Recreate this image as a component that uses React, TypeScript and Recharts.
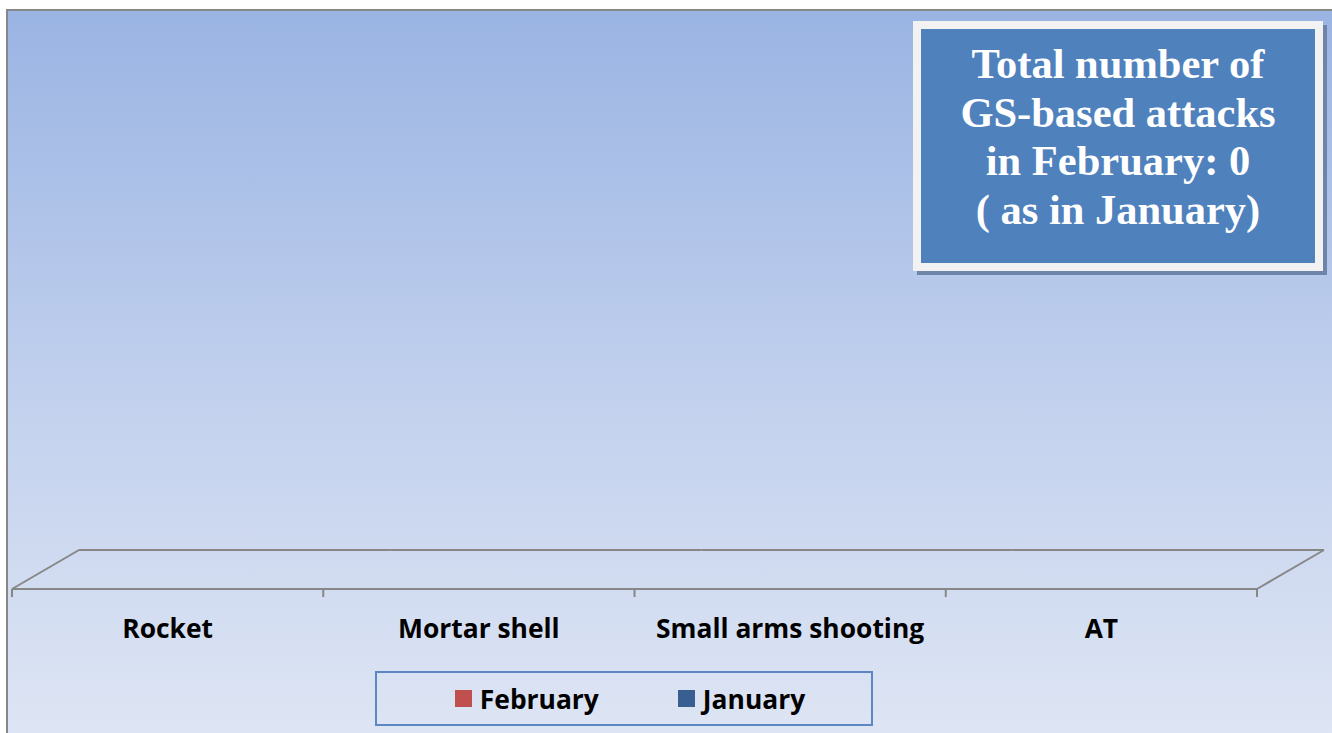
import React from 'react';
import {Bar, BarChart, Legend, XAxis, YAxis} from 'recharts';

const categories = ['Rocket', 'Mortar shell', 'Small arms shooting', 'AT'];
const february = [0, 0, 0, 0];
const january = [0, 0, 0, 0];
const boxLines = ['Total number of', 'GS-based attacks', 'in February: 0', '( as in January)'];

const data = categories.map((category, i) => ({
    category,
    February: february[i],
    January: january[i],
}));

// 3d floor depth in px
const FLOOR_DX = 67;
const FLOOR_DY = 39;
const TICK_DROP = 8;

const floorColor = '#878787';
const floorWidth = 2;

// draws the category label plus its slice of the 3d floor (band edges, back edge, side diagonals)
function CategoryTick(props: any): React.ReactElement {
    const {x, y, payload, index, visibleTicksCount, width} = props;
    const half = payload.offset ?? width / visibleTicksCount / 2;
    const left = x - half;
    const right = x + half;
    const last = index === visibleTicksCount - 1;
    return (
        <g>
            <line x1={left + FLOOR_DX} y1={y - FLOOR_DY} x2={right + FLOOR_DX} y2={y - FLOOR_DY}
                  stroke={floorColor} strokeWidth={floorWidth}/>
            <line x1={left} y1={y} x2={left} y2={y + TICK_DROP} stroke={floorColor} strokeWidth={floorWidth}/>
            {index === 0 && (
                <line x1={left} y1={y} x2={left + FLOOR_DX} y2={y - FLOOR_DY} stroke={floorColor} strokeWidth={floorWidth}/>
            )}
            {last && (
                <>
                    <line x1={right} y1={y} x2={right} y2={y + TICK_DROP} stroke={floorColor} strokeWidth={floorWidth}/>
                    <line x1={right} y1={y} x2={right + FLOOR_DX} y2={y - FLOOR_DY} stroke={floorColor} strokeWidth={floorWidth}/>
                </>
            )}
            <text x={x} y={y} dy={49} textAnchor="middle" fontFamily="'Open Sans', sans-serif"
                  fontWeight={700} fontSize={26.4} fill="#000">
                {payload.value}
            </text>
        </g>
    );
}

function LegendBox(props: any): React.ReactElement {
    const items = props.payload || [];
    return (
        <div style={{
            width: '100%', height: '100%', boxSizing: 'border-box', border: '2px solid #5B87C5',
            display: 'flex', alignItems: 'center', justifyContent: 'center', gap: 79, paddingLeft: 12,
        }}>
            {items.map((item: any) => (
                <div key={item.value} style={{display: 'flex', alignItems: 'center', gap: 8}}>
                    <span style={{width: 17, height: 17, backgroundColor: item.color, display: 'inline-block'}}></span>
                    <span style={{
                        fontFamily: "'Open Sans', sans-serif", fontWeight: 700, fontSize: 26.4, color: '#000',
                    }}>{item.value}</span>
                </div>
            ))}
        </div>
    );
}

export default function App(): React.ReactElement {
    return (
        <div style={{position: 'fixed', left: 0, top: 0, width: 1332, height: 733, overflow: 'hidden', background: '#fff'}}>
            <div style={{
                position: 'absolute', left: 6, top: 9, width: 1340, height: 740,
                borderTop: `2px solid ${floorColor}`, borderLeft: `2px solid ${floorColor}`,
                background: 'linear-gradient(to bottom, #9AB4E3 0%, #C4D2EE 55%, #DFE6F4 100%)',
            }}/>
            <div style={{position: 'absolute', left: 0, top: 0}}>
                <BarChart width={1332} height={733} data={data}
                          margin={{top: 199, right: 75, bottom: 0, left: 12}}>
                    <XAxis dataKey="category" height={144} interval={0} tickSize={0} tickMargin={0}
                           tickLine={false} axisLine={{stroke: floorColor, strokeWidth: floorWidth}}
                           tick={<CategoryTick/>}/>
                    <YAxis domain={[0, 10]} allowDataOverflow hide/>
                    <Legend layout="vertical" align="center" verticalAlign="middle"
                            wrapperStyle={{left: 375, top: 671, width: 498, height: 55}}
                            content={<LegendBox/>}/>
                    <Bar dataKey="February" name="February" fill="#C0504D" isAnimationActive={false}/>
                    <Bar dataKey="January" name="January" fill="#385E92" isAnimationActive={false}/>
                </BarChart>
            </div>
            <div style={{
                position: 'absolute', left: 913, top: 21, width: 410, height: 250, boxSizing: 'border-box',
                background: '#F2F2F2', padding: 8, boxShadow: '4px 4px 0 #6E84A8',
            }}>
                <div style={{
                    width: '100%', height: '100%', background: '#4F81BD', color: '#fff', textAlign: 'center',
                    fontFamily: "'Liberation Serif', 'Times New Roman', serif", fontWeight: 700, fontSize: 42.5,
                    lineHeight: '48.5px', paddingTop: 11, boxSizing: 'border-box',
                }}>
                    {boxLines.map(line => <div key={line} style={{whiteSpace: 'pre'}}>{line}</div>)}
                </div>
            </div>
        </div>
    );
}
